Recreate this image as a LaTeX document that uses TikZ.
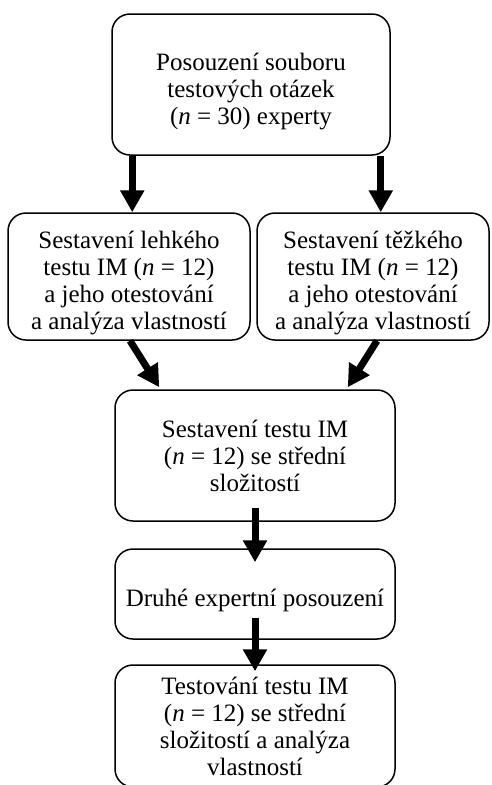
\documentclass[tikz,border=0pt]{standalone}
\usepackage{fontspec}
\setmainfont{Liberation Serif}
\usetikzlibrary{arrows.meta}
\newcommand{\tstrut}{\rule{0pt}{31pt}}

\begin{document}
\begin{tikzpicture}[x=1pt,y=-1pt,
  box/.style={draw,line width=1.5pt,rounded corners=18pt,align=center,
    inner sep=0pt,font=\fontsize{25}{27}\selectfont},
  bigarrow/.style={line width=7pt,-{Triangle[width=23pt,length=22pt]}}]
  \clip (0,0) rectangle (491,785);

  \node[box,minimum width=278pt,minimum height=141pt] (expert) at (251,84.5)
    {\tstrut Posouzení souboru\\testových otázek\\(\textit{n} = 30) experty};
  \node[box,minimum width=242pt,minimum height=127pt] (lehky) at (129,276.5)
    {\tstrut Sestavení lehkého\\testu IM (\textit{n} = 12)\\a jeho otestování\\a analýza vlastností};
  \node[box,minimum width=232pt,minimum height=127pt] (tezky) at (373,276.5)
    {\tstrut Sestavení těžkého\\testu IM (\textit{n} = 12)\\a jeho otestování\\a analýza vlastností};
  \node[box,minimum width=280pt,minimum height=131pt] (stredni) at (255,455.5)
    {Sestavení testu IM\\(\textit{n} = 12) se střední\\složitostí};
  \node[box,minimum width=280pt,minimum height=90pt] (druhe) at (255,594)
    {\tstrut Druhé expertní posouzení};
  \node[box,minimum width=280pt,minimum height=122pt] (testovani) at (255,726)
    {Testování testu IM\\(\textit{n} = 12) se střední\\složitostí a analýza\\vlastností};

  % sipky
  \draw[bigarrow] ([xshift=21pt]expert.south west) -- ([xshift=21pt]expert.south west |- lehky.north);
  \draw[bigarrow] ([xshift=-10pt]expert.south east) -- ([xshift=-10pt]expert.south east |- tezky.north);
  \draw[bigarrow] ([xshift=1pt]lehky.south) -- ([xshift=45pt,yshift=2pt]stredni.north west);
  \draw[bigarrow] ([xshift=4pt]tezky.south) -- ([xshift=-48pt,yshift=2pt]stredni.north east);
  \draw[bigarrow] ([yshift=14pt]stredni.south) -- ([yshift=-14pt]druhe.north);
  \draw[bigarrow] ([yshift=22pt]druhe.south) -- ([yshift=-7pt]testovani.north);
\end{tikzpicture}
\end{document}
